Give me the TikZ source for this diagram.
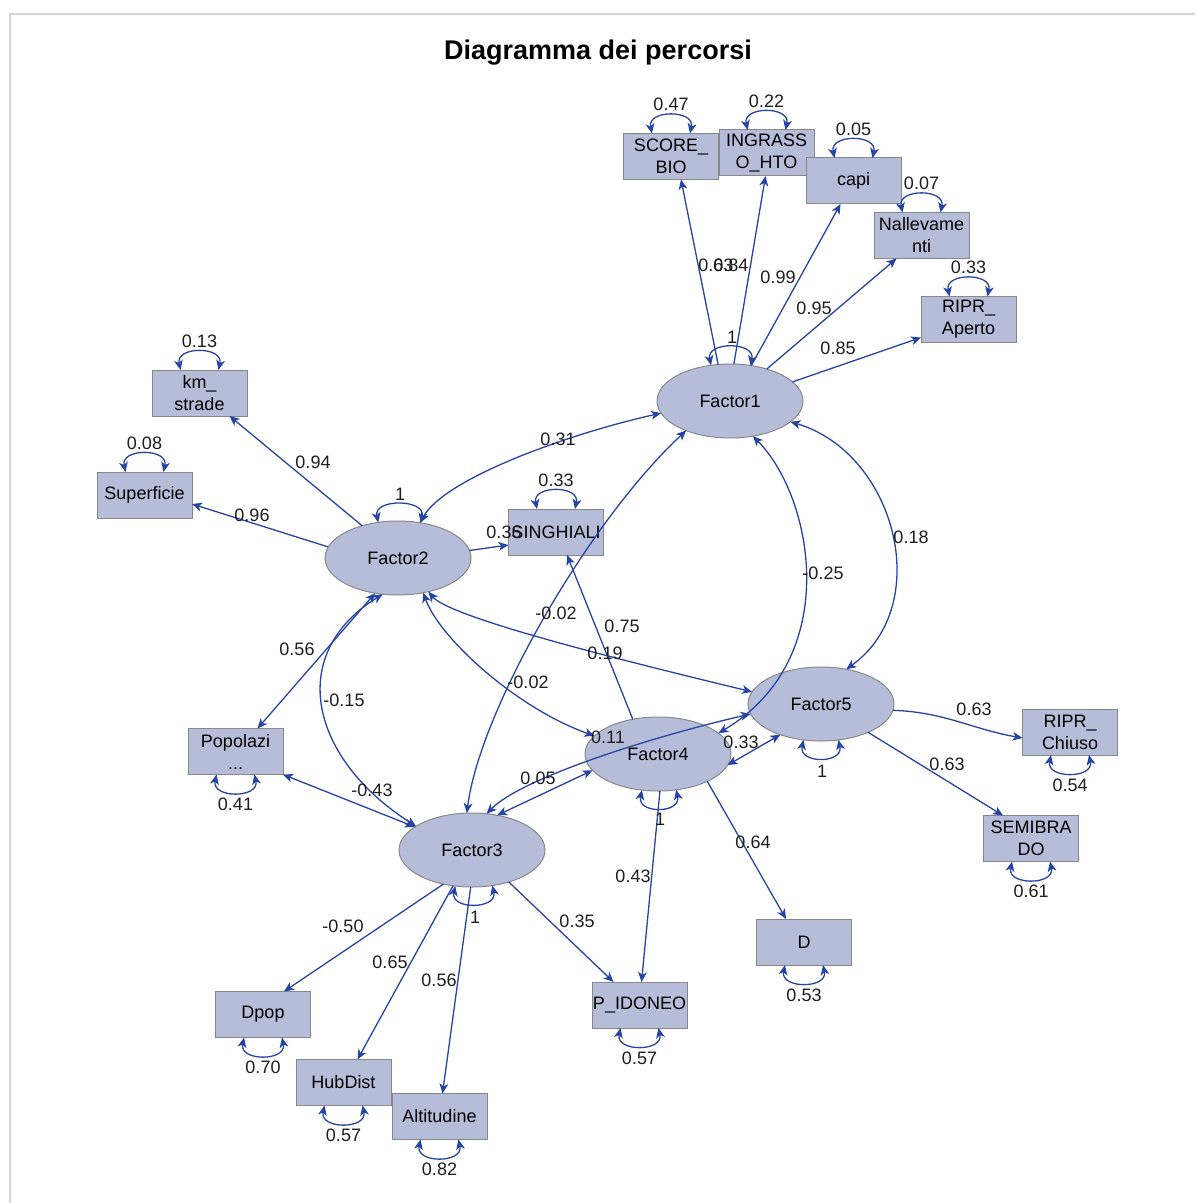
\documentclass[tikz,border=0pt]{standalone}
\usepackage{fontspec}
\setmainfont{Liberation Sans}
\usetikzlibrary{arrows.meta,shapes.geometric,calc}
\definecolor{edgeblue}{RGB}{38,68,165}
\definecolor{boxfill}{RGB}{182,189,217}
\definecolor{boxline}{RGB}{135,135,140}
\definecolor{framegray}{RGB}{212,212,212}
\definecolor{lbltext}{RGB}{30,30,30}
\newcommand{\mylblfont}{\fontsize{9}{11}\selectfont}
\begin{document}
\begin{tikzpicture}[x=0.5pt,y=-0.5pt,
  ed/.style={draw=edgeblue,line width=0.65pt},
  one/.style={ed,-{Stealth[length=5pt,width=4.4pt,inset=1.4pt]}},
  two/.style={ed,{Stealth[length=5pt,width=4.4pt,inset=1.4pt]}-{Stealth[length=5pt,width=4.4pt,inset=1.4pt]}},
  lbl/.style={font=\mylblfont,text=lbltext,inner sep=0pt},
  obs/.style={rectangle,draw=boxline,fill=boxfill,line width=0.5pt,minimum width=47.5pt,minimum height=23pt,inner sep=0pt,outer sep=0pt,align=center,font=\mylblfont},
  lat/.style={ellipse,draw=boxline,fill=boxfill,line width=0.5pt,minimum width=73pt,minimum height=37pt,inner sep=0pt,outer sep=0pt,font=\mylblfont}]
\useasboundingbox (0,0) rectangle (1195,1203);
\draw[framegray,line width=1pt] (10,1203) -- (10,14) -- (1195,14);
\node[font=\fontsize{13.5}{16}\selectfont\bfseries] (title) at (598,53) {Diagramma dei percorsi};

% latent factors
\node[lat] (F1) at (730,401) {Factor1};
\node[lat] (F2) at (398,558) {Factor2};
\node[lat] (F3) at (472,850) {Factor3};
\node[lat] (F4) at (658,754) {Factor4};
\node[lat] (F5) at (821,704) {Factor5};

% observed variables
\node[obs] (SB) at (671,156.5) {SCORE\_\\BIO};
\node[obs] (ING) at (766.5,153) {INGRASS\\O\_HTO};
\node[obs] (CAPI) at (853.5,181) {capi};
\node[obs] (NALL) at (921.5,235.5) {Nallevame\\nti};
\node[obs] (RA) at (968.5,319.5) {RIPR\_\\Aperto};
\node[obs] (KM) at (199.5,393) {km\_\\strade};
\node[obs] (SUP) at (144.5,495) {Superficie};
\node[obs] (SING) at (556,532) {SINGHIALI};
\node[obs] (POP) at (235.5,751.5) {Popolazi\\...};
\node[obs] (RC) at (1070,732) {RIPR\_\\Chiuso};
\node[obs] (SEMI) at (1031,838.5) {SEMIBRA\\DO};
\node[obs] (D) at (804,942) {D};
\node[obs] (DPOP) at (263,1014.5) {Dpop};
\node[obs] (PID) at (639.5,1005) {P\_IDONEO};
\node[obs] (HUB) at (343.5,1082.5) {HubDist};
\node[obs] (ALT) at (439.5,1116.5) {Altitudine};

% loadings
\draw[one] (F1.108) -- ($(SB.south)+(10,0)$);
\draw[one] (F1.84) -- ($(ING.south)+(-1,0)$);
\draw[one] (F1.59) -- ($(CAPI.south)+(-13,0)$);
\draw[one] (F1.41) -- ($(NALL.south)+(-25,0)$);
\draw[one] (F1.17) -- ($(RA.west)+(0,18)$);
\draw[one] (F2.138) -- ($(KM.south)+(30,0)$);
\draw[one] (F2.171) -- ($(SUP.east)+(0,9)$);
\draw[one] (F2.6) -- ($(SING.west)+(0,13)$);
\draw[two] (F2.-123) -- ($(POP.north)+(22,0)$);
\draw[two] (F3.158) -- (POP.south east);
\draw[one] (F3.-130) -- ($(DPOP.north)+(21,0)$);
\draw[one] (F3.-118) -- ($(HUB.north)+(14,0)$);
\draw[one] (F3.-92) -- ($(ALT.north)+(3,0)$);
\draw[one] (F3.-41) -- ($(PID.north)+(-26,0)$);
\draw[one] (F4.126.6) -- ($(SING.south)+(11,0)$);
\draw[one] (F4.-87) -- ($(PID.north)+(2,0)$);
\draw[one] (F4.-29) -- ($(D.north)+(-18,0)$);
\draw[one] (F5.-5) to[out=-2,in=170] ($(RC.west)+(0,6)$);
\draw[one] (F5.-31) -- ($(SEMI.north)+(-28,0)$);

% covariances
\draw[two] (F2.58) .. controls +(25,-45) and +(-90,20) .. (F1.190);
\draw[two] (F1.-146) .. controls +(-97,90) and +(13,-103) .. (F3.98);
\draw[two] (F1.-57) .. controls +(60,60) and +(126,-75) .. (F4.19);
\draw[two] (F1.-19) .. controls +(105,31) and +(89,-64) .. (F5.54.5);
\draw[two] (F2.-113) .. controls +(-98,61) and +(-105,-67) .. (F3.157.5);
\draw[two] (F2.-54.5) .. controls +(17,47) and +(-75,-26) .. (F4.164.4);
\draw[two] (F2.-48.6) .. controls +(22,26) and +(-132,-32) .. (F5.170.5);
\draw[two] (F3.54.5) -- (F4.194);
\draw[two] (F3.68) .. controls +(33,-34) and +(-111,26) .. (F5.188);
\draw[two] (F4.-9) -- (F5.-143);

% factor variance loops
\draw[two] (F1.118) .. controls +(-5,-24) and +(5,-24) .. (F1.60);
\draw[two] (F2.119) .. controls +(-5,-24) and +(5,-24) .. (F2.57);
\draw[two] (F3.-115) .. controls +(-5,24) and +(5,24) .. (F3.-60);
\draw[two] (F4.-114) .. controls +(-5,24) and +(5,24) .. (F4.-63);
\draw[two] (F5.-116) .. controls +(-5,24) and +(5,24) .. (F5.-64);
\node[lbl] at ($(F1.north)+(2,-27)$) {1};
\node[lbl] at ($(F2.north)+(2,-27)$) {1};
\node[lbl] at ($(F3.south)+(3,30)$) {1};
\node[lbl] at ($(F4.south)+(2,28)$) {1};
\node[lbl] at ($(F5.south)+(1,30)$) {1};

% residual loops (top)
\foreach \n/\v in {SB/0.47,ING/0.22,CAPI/0.05,NALL/0.07,RA/0.33,KM/0.13,SUP/0.08,SING/0.33}{
  \draw[two] ($(\n.north)+(-19,0)$) .. controls +(-5,-24) and +(5,-24) .. ($(\n.north)+(19,0)$);
  \node[lbl] at ($(\n.north)+(0,-29)$) {\v};
}
% residual loops (bottom)
\foreach \n/\v in {POP/0.41,RC/0.54,SEMI/0.61,D/0.53,DPOP/0.70,PID/0.57,HUB/0.57,ALT/0.82}{
  \draw[two] ($(\n.south)+(-19,0)$) .. controls +(-5,24) and +(5,24) .. ($(\n.south)+(19,0)$);
  \node[lbl] at ($(\n.south)+(0,30)$) {\v};
}

% path labels
\node[lbl,anchor=west] at (698,265) {0.63};
\node[lbl,anchor=west] at (713,265) {0.84};
\node[lbl] at (778,277) {0.99};
\node[lbl] at (814,308) {0.95};
\node[lbl] at (838,348) {0.85};
\node[lbl] at (313,462) {0.94};
\node[lbl] at (252,515) {0.96};
\node[lbl] at (558,439) {0.31};
\node[lbl] at (504,532) {0.36};
\node[lbl] at (556,613) {-0.02};
\node[lbl] at (622,626) {0.75};
\node[lbl] at (823,573) {-0.25};
\node[lbl] at (911,537) {0.18};
\node[lbl] at (297,649) {0.56};
\node[lbl] at (344,700) {-0.15};
\node[lbl] at (605,653) {0.19};
\node[lbl] at (528,682) {-0.02};
\node[lbl] at (608,737) {0.11};
\node[lbl] at (741,742) {0.33};
\node[lbl] at (974,709) {0.63};
\node[lbl] at (947,764) {0.63};
\node[lbl] at (372,790) {-0.43};
\node[lbl] at (538,778) {0.05};
\node[lbl] at (753,842) {0.64};
\node[lbl] at (633,876) {0.43};
\node[lbl] at (343,926) {-0.50};
\node[lbl] at (390,962) {0.65};
\node[lbl] at (439,980) {0.56};
\node[lbl] at (577,921) {0.35};
\end{tikzpicture}
\end{document}
